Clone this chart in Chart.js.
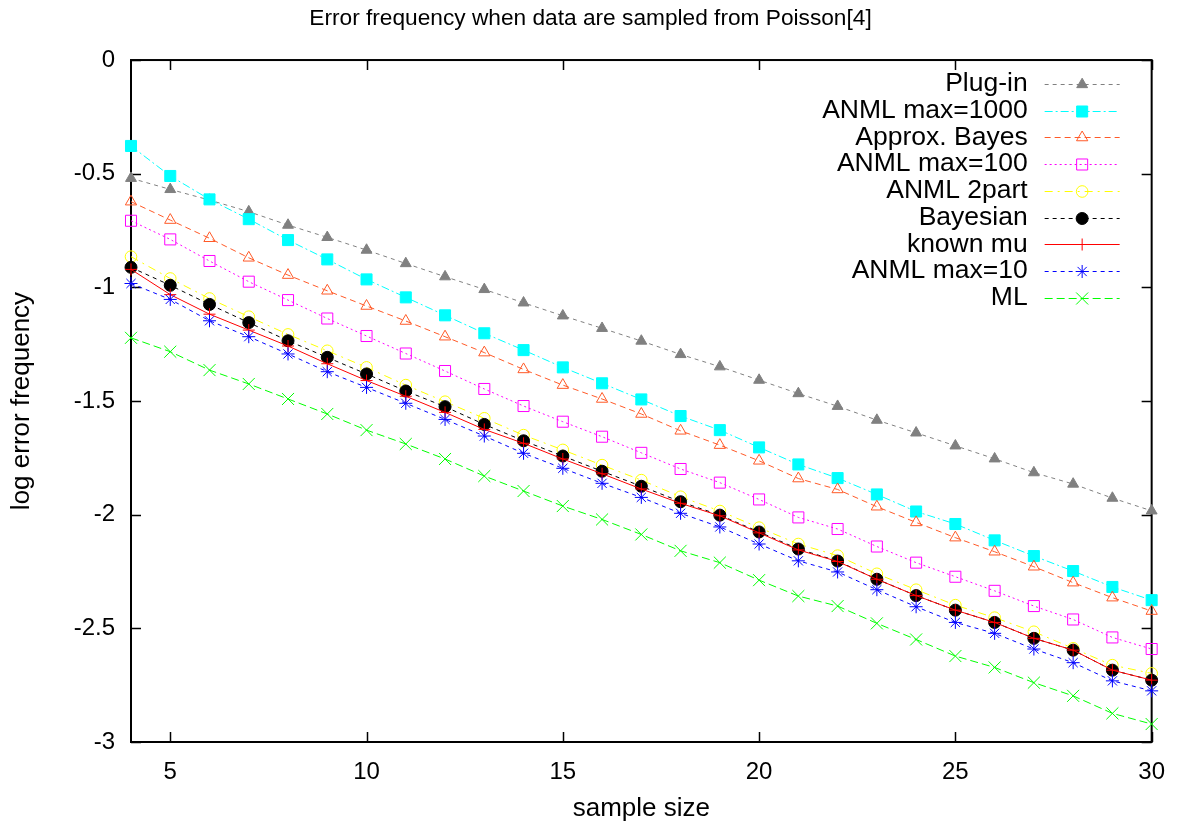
<!DOCTYPE html>
<html>
<head>
<meta charset="utf-8">
<script src="https://cdn.jsdelivr.net/npm/chart.js@4/dist/chart.umd.min.js"></script>
<style>
html,body{margin:0;padding:0;background:#fff;}
#wrap{width:1181px;height:828px;}
</style>
</head>
<body>
<div id="wrap"><canvas id="c" width="1181" height="828"></canvas></div>
<script>
// ---- data ----
const sampleSizes = [4,5,6,7,8,9,10,11,12,13,14,15,16,17,18,19,20,21,22,23,24,25,26,27,28,29,30];
const xTickValues = [5,10,15,20,25,30];
const yTickValues = [0,-0.5,-1,-1.5,-2,-2.5,-3];
const yTickLabels = ['0','-0.5','-1','-1.5','-2','-2.5','-3'];
const seriesNames = ['Plug-in','ANML max=1000','Approx. Bayes','ANML max=100','ANML 2part','Bayesian','known mu','ANML max=10','ML'];

const plugIn      = [-0.520,-0.569,-0.616,-0.667,-0.726,-0.780,-0.836,-0.895,-0.953,-1.009,-1.068,-1.125,-1.180,-1.236,-1.295,-1.349,-1.408,-1.467,-1.523,-1.584,-1.640,-1.697,-1.754,-1.815,-1.865,-1.927,-1.983];
const anml1000    = [-0.378,-0.510,-0.613,-0.700,-0.792,-0.877,-0.965,-1.044,-1.123,-1.202,-1.276,-1.352,-1.422,-1.493,-1.566,-1.628,-1.704,-1.779,-1.839,-1.911,-1.986,-2.041,-2.113,-2.182,-2.248,-2.318,-2.376];
const approxBayes = [-0.623,-0.704,-0.784,-0.870,-0.946,-1.015,-1.082,-1.148,-1.217,-1.287,-1.361,-1.430,-1.491,-1.557,-1.631,-1.694,-1.763,-1.841,-1.889,-1.965,-2.034,-2.101,-2.163,-2.229,-2.299,-2.365,-2.424];
const anml100     = [-0.707,-0.789,-0.884,-0.975,-1.056,-1.137,-1.214,-1.291,-1.368,-1.447,-1.522,-1.591,-1.657,-1.728,-1.799,-1.859,-1.933,-2.012,-2.063,-2.140,-2.211,-2.273,-2.335,-2.402,-2.461,-2.540,-2.591];
const anml2part   = [-0.865,-0.961,-1.049,-1.129,-1.207,-1.279,-1.352,-1.430,-1.503,-1.576,-1.650,-1.715,-1.782,-1.848,-1.921,-1.984,-2.057,-2.129,-2.180,-2.260,-2.330,-2.398,-2.453,-2.515,-2.588,-2.662,-2.698];
const bayesian    = [-0.912,-0.991,-1.075,-1.155,-1.235,-1.308,-1.381,-1.456,-1.525,-1.603,-1.675,-1.742,-1.809,-1.875,-1.943,-2.002,-2.076,-2.151,-2.204,-2.284,-2.356,-2.420,-2.474,-2.544,-2.596,-2.684,-2.728];
const knownMu     = [-0.921,-1.032,-1.118,-1.188,-1.258,-1.336,-1.410,-1.479,-1.550,-1.625,-1.686,-1.755,-1.820,-1.887,-1.950,-2.005,-2.080,-2.155,-2.206,-2.284,-2.356,-2.420,-2.474,-2.544,-2.596,-2.684,-2.728];
const anml10      = [-0.983,-1.053,-1.147,-1.217,-1.293,-1.371,-1.440,-1.510,-1.581,-1.654,-1.730,-1.796,-1.862,-1.924,-1.994,-2.054,-2.129,-2.203,-2.252,-2.330,-2.405,-2.474,-2.522,-2.591,-2.651,-2.731,-2.775];
const ml          = [-1.222,-1.283,-1.364,-1.425,-1.491,-1.557,-1.628,-1.689,-1.755,-1.830,-1.896,-1.962,-2.021,-2.087,-2.159,-2.211,-2.288,-2.358,-2.402,-2.478,-2.549,-2.622,-2.672,-2.739,-2.797,-2.874,-2.921];

const seriesValues = [plugIn, anml1000, approxBayes, anml100, anml2part, bayesian, knownMu, anml10, ml];

// ---- styles ----
const styles = [
  {color:'#808080', dash:[4,4],        point:'triangle', radius:6.3, filled:true},
  {color:'#00ffff', dash:[8,3,2,3],    point:'rect',     radius:7.8, filled:true},
  {color:'#ff5a28', dash:[6,4],        point:'triangle', radius:6.5, filled:false},
  {color:'#ff00ff', dash:[2,3],        point:'rect',     radius:7.8, filled:false},
  {color:'#ffff00', dash:[8,5,2,5],    point:'circle',   radius:5.8, filled:false},
  {color:'#000000', dash:[4,4],        point:'circle',   radius:6,   filled:true},
  {color:'#ff0000', dash:[],           point:'cross',    radius:6,   filled:false},
  {color:'#0000ff', dash:[4,4],        point:'star',     radius:6.5, filled:false},
  {color:'#00ff00', dash:[8,4],        point:'crossRot', radius:8.5, filled:false}
];

const FONT = '"Liberation Sans", Arial, Helvetica, sans-serif';
Chart.defaults.font.family = FONT;
Chart.defaults.color = '#000';

const datasets = seriesNames.map((name, i) => {
  const s = styles[i];
  return {
    label: name,
    data: sampleSizes.map((x, j) => ({x: x, y: seriesValues[i][j]})),
    borderColor: s.color,
    borderWidth: 1,
    borderDash: s.dash,
    backgroundColor: s.color,
    pointStyle: s.point,
    pointRadius: s.radius,
    pointBorderColor: s.color,
    pointBackgroundColor: s.filled ? s.color : 'rgba(0,0,0,0)',
    pointBorderWidth: 1,
    fill: false,
    tension: 0,
    clip: false,
    order: seriesNames.length - 1 - i
  };
});

// frame with inward ticks (gnuplot-like border)
const framePlugin = {
  id: 'frame',
  beforeDatasetsDraw(chart) {
    const {ctx, chartArea: a, scales} = chart;
    ctx.save();
    ctx.strokeStyle = '#000';
    ctx.lineWidth = 1.5;
    const tl = 10;
    ctx.beginPath();
    scales.y.ticks.forEach(t => {
      const py = Math.round(scales.y.getPixelForValue(t.value)) + 0.5;
      ctx.moveTo(a.left, py); ctx.lineTo(a.left + tl, py);
      ctx.moveTo(a.right, py); ctx.lineTo(a.right - tl, py);
    });
    scales.x.ticks.forEach(t => {
      const px = Math.round(scales.x.getPixelForValue(t.value)) + 0.5;
      ctx.moveTo(px, a.bottom); ctx.lineTo(px, a.bottom - tl);
      ctx.moveTo(px, a.top); ctx.lineTo(px, a.top + tl);
    });
    ctx.stroke();
    ctx.lineWidth = 2;
    ctx.strokeRect(a.left, a.top, a.right - a.left, a.bottom - a.top);
    ctx.restore();
  }
};

// gnuplot-style key: text right-aligned, then line sample with marker
const keyPlugin = {
  id: 'key',
  afterDraw(chart) {
    const {ctx, chartArea: a} = chart;
    const textRight = a.right - 124;
    const lineStart = a.right - 107;
    const lineEnd = a.right - 32;
    const mid = (lineStart + lineEnd) / 2;
    const rowH = 26.7;
    const y0 = a.top + 24;
    ctx.save();
    chart.data.datasets.forEach((ds, i) => {
      const y = y0 + i * rowH;
      ctx.font = '26.5px ' + FONT;
      ctx.fillStyle = '#000';
      ctx.textAlign = 'right';
      ctx.textBaseline = 'middle';
      ctx.fillText(ds.label, textRight, y);
      ctx.strokeStyle = ds.borderColor;
      ctx.lineWidth = 1;
      ctx.setLineDash(ds.borderDash);
      ctx.beginPath();
      ctx.moveTo(lineStart, Math.round(y) + 0.5);
      ctx.lineTo(lineEnd, Math.round(y) + 0.5);
      ctx.stroke();
      ctx.setLineDash([]);
      ctx.fillStyle = ds.pointBackgroundColor;
      ctx.strokeStyle = ds.pointBorderColor;
      ctx.lineWidth = 1;
      if (Chart.helpers && Chart.helpers.drawPoint) {
        Chart.helpers.drawPoint(ctx, {pointStyle: ds.pointStyle, rotation: 0, radius: ds.pointRadius, borderWidth: 1}, mid, Math.round(y) + 0.5);
      }
    });
    ctx.restore();
  }
};

new Chart(document.getElementById('c'), {
  type: 'line',
  data: {datasets: datasets},
  plugins: [framePlugin, keyPlugin],
  options: {
    responsive: false,
    animation: false,
    devicePixelRatio: 1,
    layout: {padding: 0},
    plugins: {
      legend: {display: false},
      tooltip: {enabled: false},
      title: {
        display: true,
        text: 'Error frequency when data are sampled from Poisson[4]',
        color: '#000',
        font: {size: 22.7, weight: 'normal', family: FONT},
        padding: {top: 5.5, bottom: 27.3}
      }
    },
    scales: {
      x: {
        type: 'linear',
        min: 4, max: 30,
        afterBuildTicks: s => { s.ticks = xTickValues.map(v => ({value: v})); },
        afterFit: s => { s.height = 86; },
        grid: {display: false, drawTicks: false},
        border: {display: false},
        ticks: {font: {size: 24}, padding: 16, color: '#000', maxRotation: 0, autoSkip: false},
        title: {display: true, text: 'sample size', color: '#000', font: {size: 26}, padding: {top: 0, bottom: 4}}
      },
      y: {
        type: 'linear',
        min: -3, max: 0,
        afterBuildTicks: s => { s.ticks = yTickValues.map(v => ({value: v})); },
        afterFit: s => { s.width = 131; },
        grid: {display: false, drawTicks: false},
        border: {display: false},
        ticks: {
          font: {size: 24}, padding: 16, color: '#000',
          callback: (v, idx) => yTickLabels[idx]
        },
        title: {display: true, text: 'log error frequency', color: '#000', font: {size: 26}, padding: {top: 6, bottom: 0}}
      },
      y2: {
        type: 'linear',
        position: 'right',
        display: true,
        min: -3, max: 0,
        afterFit: s => { s.width = 28; },
        grid: {display: false, drawTicks: false},
        border: {display: false},
        ticks: {display: false}
      }
    }
  }
});
</script>
</body>
</html>
